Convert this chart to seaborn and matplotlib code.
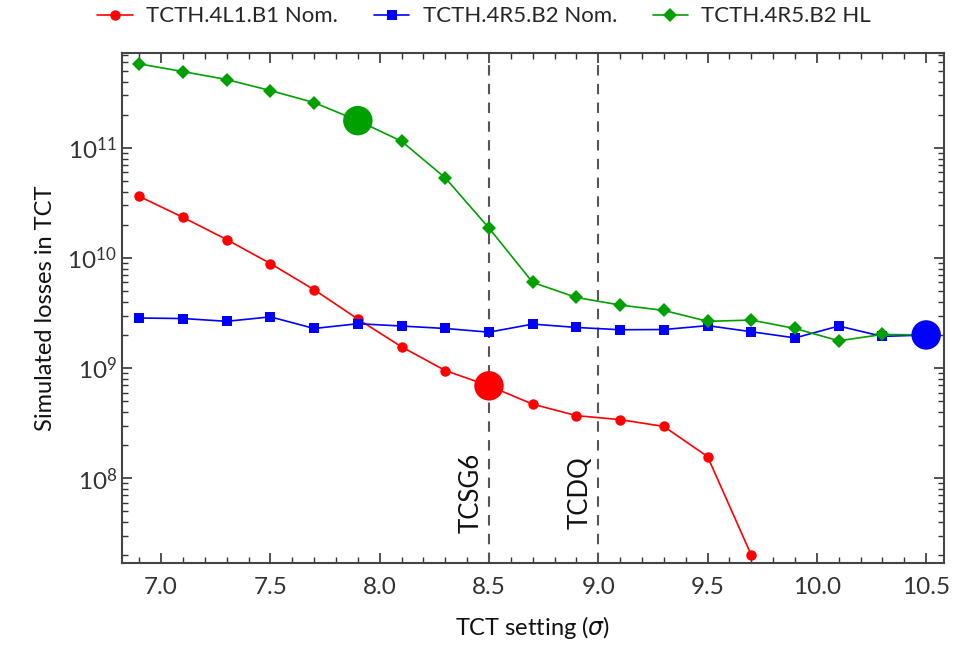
import matplotlib
matplotlib.use("Agg")
import numpy as np
import pandas as pd
import matplotlib.pyplot as plt
import matplotlib.ticker as mticker
import seaborn as sns

# data
setting = [6.9, 7.1, 7.3, 7.5, 7.7, 7.9, 8.1, 8.3, 8.5, 8.7,
           8.9, 9.1, 9.3, 9.5, 9.7, 9.9, 10.1, 10.3, 10.5]
red_vals = [3.63e10, 2.34e10, 1.47e10, 8.9e9, 5.15e9, 2.79e9, 1.56e9, 9.5e8,
            6.9e8, 4.7e8, 3.7e8, 3.4e8, 2.95e8, 1.57e8, 2.0e7]
blue_vals = [2.85e9, 2.82e9, 2.66e9, 2.92e9, 2.29e9, 2.53e9, 2.41e9, 2.29e9,
             2.12e9, 2.51e9, 2.34e9, 2.23e9, 2.24e9, 2.43e9, 2.14e9, 1.88e9,
             2.41e9, 1.94e9, 2.0e9]
green_vals = [5.8e11, 4.94e11, 4.18e11, 3.32e11, 2.58e11, 1.77e11, 1.15e11,
              5.34e10, 1.87e10, 6.0e9, 4.38e9, 3.74e9, 3.34e9, 2.66e9, 2.73e9,
              2.29e9, 1.77e9, 2.02e9, 2.0e9]
series_names = ["TCTH.4L1.B1 Nom.", "TCTH.4R5.B2 Nom.", "TCTH.4R5.B2 HL"]
highlight_x = [8.5, 10.5, 7.9]   # one per series, same order
collimators = ["TCSG6", "TCDQ"]
collimator_pos = [8.5, 9.0]

rows = []
for name, vals in zip(series_names, [red_vals, blue_vals, green_vals]):
    for x, v in zip(setting, vals):
        rows.append({"setting": x, "losses": v, "series": name})
df = pd.DataFrame(rows)

pick = set(zip(series_names, highlight_x))
hl = df[[(s, x) in pick for s, x in zip(df["series"], df["setting"])]]

colors = {series_names[0]: "#ff0000", series_names[1]: "#0000ff", series_names[2]: "#00a000"}
markers = {series_names[0]: "o", series_names[1]: "s", series_names[2]: "D"}

sns.set_style("ticks")
plt.rcParams["font.family"] = ["Lato", "DejaVu Sans"]
plt.rcParams["xtick.direction"] = "in"
plt.rcParams["ytick.direction"] = "in"

fig, ax = plt.subplots(figsize=(9.59, 6.53), dpi=100)
fig.subplots_adjust(left=0.127, right=0.984, top=0.919, bottom=0.138)

sns.lineplot(data=df, x="setting", y="losses", hue="series", style="series",
             hue_order=series_names, style_order=series_names,
             palette=colors, markers=markers, dashes=False,
             markersize=7.5, markeredgewidth=0, linewidth=1.2, ax=ax)
sns.scatterplot(data=hl, x="setting", y="losses", hue="series", palette=colors,
                s=450, marker="o", edgecolor="none", legend=False, zorder=5, ax=ax)

for name, xpos in zip(collimators, collimator_pos):
    ax.axvline(xpos, color="#555555", linestyle=(0, (5, 4)), linewidth=1.5, zorder=1)
    ax.text(xpos - 0.025, 7.4e7, name, rotation=90, ha="right", va="center",
            fontsize=18.5, color="#111111")

ax.set_yscale("log")
ax.set_xlim(6.82, 10.58)
ax.set_ylim(1.7e7, 7.3e11)
ax.xaxis.set_major_locator(mticker.MultipleLocator(0.5))
ax.xaxis.set_minor_locator(mticker.MultipleLocator(0.1))
ax.xaxis.set_major_formatter(mticker.FormatStrFormatter("%.1f"))
ax.yaxis.set_major_locator(mticker.LogLocator(base=10))
ax.yaxis.set_minor_locator(mticker.LogLocator(base=10, subs=np.arange(2, 10)))
ax.yaxis.set_minor_formatter(mticker.NullFormatter())
ax.tick_params(which="both", top=True, right=True, labelsize=17.5, colors="#333333")
ax.tick_params(which="major", length=7, width=1.2)
ax.tick_params(which="minor", length=4, width=1.0)
ax.tick_params(axis="x", pad=10)
for sp in ax.spines.values():
    sp.set_color("#444444")
    sp.set_linewidth(1.5)

ax.set_xlabel(r"TCT setting ($\sigma$)", fontsize=17, labelpad=12, color="#111111")
ax.set_ylabel("Simulated losses in TCT", fontsize=17, labelpad=8, color="#111111")

handles, labels = ax.get_legend_handles_labels()
ax.legend(handles, labels, loc="center", bbox_to_anchor=(0.505, 0.975),
          bbox_transform=fig.transFigure, ncol=3, frameon=False, fontsize=16,
          handlelength=1.6, columnspacing=1.6, handletextpad=0.6)

fig.savefig("out.png", dpi=100)
